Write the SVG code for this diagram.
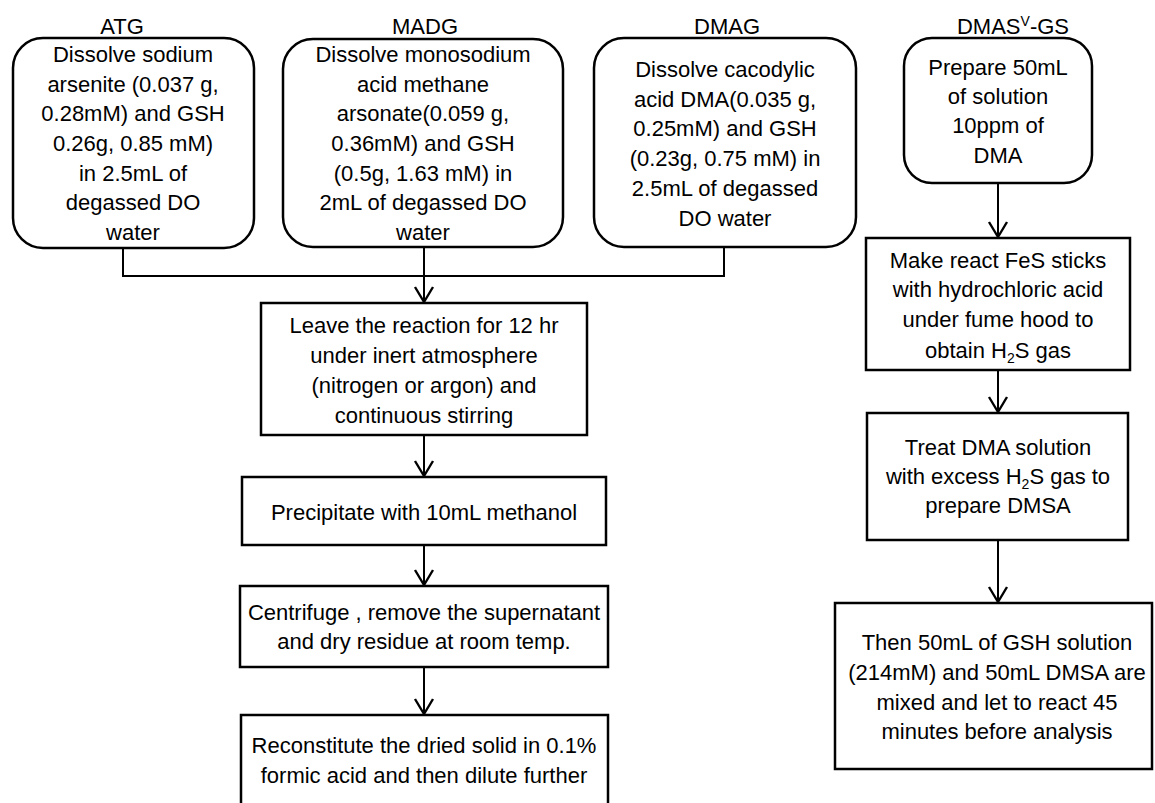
<svg xmlns="http://www.w3.org/2000/svg" width="1155" height="803" viewBox="0 0 1155 803">
<style>
.box{fill:#fff;stroke:#000;stroke-width:2.5}
.t{font-family:"Liberation Sans",Arial,sans-serif;font-size:22px;fill:#000;text-anchor:middle}
.c{fill:none;stroke:#000;stroke-width:2}
.sub{font-size:14px}
</style>
<defs>
<marker id="ah" markerUnits="userSpaceOnUse" markerWidth="24" markerHeight="24" refX="16" refY="10" orient="auto" viewBox="-2 -2 24 24" overflow="visible">
<path d="M1,1 L16,10 L1,19" fill="none" stroke="#000" stroke-width="2.4"/>
</marker>
</defs>
<rect width="1155" height="803" fill="#fff"/>
<g id="labels">
<text class="t" x="122" y="34">ATG</text>
<text class="t" x="425" y="34">MADG</text>
<text class="t" x="727" y="34">DMAG</text>
<text class="t" x="1013" y="34">DMAS<tspan class="sub" dy="-8">V</tspan><tspan dy="8">-GS</tspan></text>
</g>
<g id="connectors">
<polyline class="c" points="123,248 123,276 724,276 724,247"/>
<line class="c" x1="424" y1="247" x2="424" y2="276"/>
<line class="c" x1="424" y1="276" x2="424" y2="302" stroke-width="3" marker-end="url(#ah)"/>
<line class="c" x1="424" y1="435" x2="424" y2="476" marker-end="url(#ah)"/>
<line class="c" x1="424" y1="545" x2="424" y2="585" marker-end="url(#ah)"/>
<line class="c" x1="424" y1="667" x2="424" y2="714" marker-end="url(#ah)"/>
<line class="c" x1="998" y1="183" x2="998" y2="237" marker-end="url(#ah)"/>
<line class="c" x1="998" y1="370" x2="998" y2="412" marker-end="url(#ah)"/>
<line class="c" x1="998" y1="540" x2="998" y2="602" marker-end="url(#ah)"/>
</g>
<g id="atg">
<rect class="box" x="13" y="38" width="241" height="210" rx="30"/>
<text class="t"><tspan x="133" y="62">Dissolve sodium</tspan><tspan x="133" y="92">arsenite (0.037 g,</tspan><tspan x="133" y="121">0.28mM) and GSH</tspan><tspan x="133" y="151">0.26g, 0.85 mM)</tspan><tspan x="133" y="181">in 2.5mL of</tspan><tspan x="133" y="210">degassed DO</tspan><tspan x="133" y="240">water</tspan></text>
</g>
<g id="madg">
<rect class="box" x="283" y="39" width="280" height="208" rx="30"/>
<text class="t"><tspan x="423" y="62">Dissolve monosodium</tspan><tspan x="423" y="92">acid methane</tspan><tspan x="423" y="121">arsonate(0.059 g,</tspan><tspan x="423" y="151">0.36mM) and GSH</tspan><tspan x="423" y="181">(0.5g, 1.63 mM) in</tspan><tspan x="423" y="210">2mL of degassed DO</tspan><tspan x="423" y="240">water</tspan></text>
</g>
<g id="dmag">
<rect class="box" x="594" y="38" width="262" height="209" rx="30"/>
<text class="t"><tspan x="725" y="77">Dissolve cacodylic</tspan><tspan x="725" y="107">acid DMA(0.035 g,</tspan><tspan x="725" y="136">0.25mM) and GSH</tspan><tspan x="725" y="166">(0.23g, 0.75  mM) in</tspan><tspan x="725" y="196">2.5mL of  degassed</tspan><tspan x="725" y="226">DO water</tspan></text>
</g>
<g id="dmas">
<rect class="box" x="904" y="38" width="188" height="145" rx="28"/>
<text class="t"><tspan x="998" y="75">Prepare 50mL</tspan><tspan x="998" y="104">of solution</tspan><tspan x="998" y="133">10ppm of</tspan><tspan x="998" y="163">DMA</tspan></text>
</g>
<g id="leave">
<rect class="box" x="261" y="303" width="326" height="132"/>
<text class="t"><tspan x="424" y="333">Leave the reaction for 12 hr</tspan><tspan x="424" y="363">under inert atmosphere</tspan><tspan x="424" y="393">(nitrogen or argon) and</tspan><tspan x="424" y="423">continuous stirring</tspan></text>
</g>
<g id="precip">
<rect class="box" x="242" y="477" width="364" height="68"/>
<text class="t" x="424" y="520">Precipitate with 10mL methanol</text>
</g>
<g id="centrifuge">
<rect class="box" x="240" y="586" width="368" height="81"/>
<text class="t"><tspan x="424" y="620">Centrifuge , remove the supernatant</tspan><tspan x="424" y="649">and dry residue at room temp.</tspan></text>
</g>
<g id="reconstitute">
<rect class="box" x="241" y="715" width="367" height="100"/>
<text class="t"><tspan x="424" y="753">Reconstitute the dried solid in 0.1%</tspan><tspan x="424" y="783">formic acid  and then dilute further</tspan></text>
</g>
<g id="fes">
<rect class="box" x="866" y="238" width="264" height="132"/>
<text class="t"><tspan x="998" y="268">Make react FeS sticks</tspan><tspan x="998" y="297">with hydrochloric acid</tspan><tspan x="998" y="327">under fume hood to</tspan><tspan x="998" y="358">obtain H<tspan class="sub" dy="5">2</tspan><tspan dy="-5">S gas</tspan></tspan></text>
</g>
<g id="treat">
<rect class="box" x="867" y="413" width="261" height="127"/>
<text class="t"><tspan x="998" y="455">Treat DMA solution</tspan><tspan x="998" y="484">with excess H<tspan class="sub" dy="5">2</tspan><tspan dy="-5">S gas to</tspan></tspan><tspan x="998" y="513">prepare DMSA</tspan></text>
</g>
<g id="then">
<rect class="box" x="835" y="603" width="317" height="166"/>
<text class="t"><tspan x="997" y="650">Then 50mL of GSH solution</tspan><tspan x="997" y="680">(214mM) and 50mL DMSA are</tspan><tspan x="997" y="710">mixed and let to react 45</tspan><tspan x="997" y="739">minutes before analysis</tspan></text>
</g>
</svg>
